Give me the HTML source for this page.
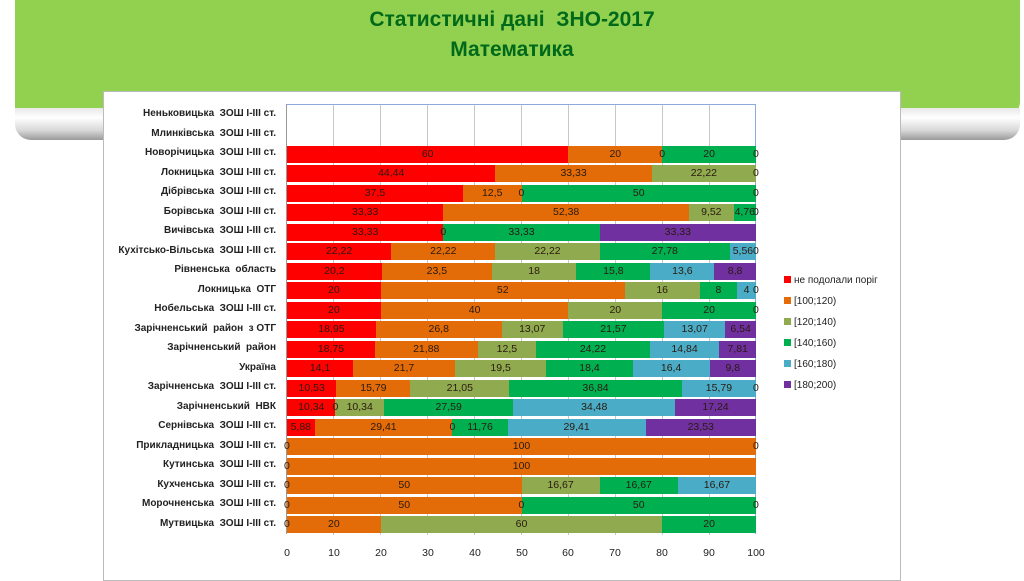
<!DOCTYPE html>
<html><head><meta charset="utf-8"><style>
*{margin:0;padding:0;box-sizing:border-box}
body{width:1024px;height:574px;background:#fff;position:relative;overflow:hidden;font-family:"Liberation Sans",sans-serif}
.banner{position:absolute;left:15px;top:0;width:1005px;height:116px;background:#92d050;border-bottom-right-radius:14px}
.shadow{position:absolute;left:15px;top:108px;width:1005px;height:32px;background:linear-gradient(#e8e8e8,#fff 30%,#d8d8d8 70%,#9a9a9a);border-radius:0 0 16px 16px;z-index:0}
.t{position:absolute;left:0;width:1024px;text-align:center;color:#006a1a;font-weight:bold;font-size:21px}
.box{position:absolute;left:103px;top:91px;width:798px;height:490px;background:#fff;border:1px solid #bbb;z-index:2}
.plot{position:absolute;left:286px;top:104px;width:470px;height:430px;border-top:1px solid #8ea9db;border-right:1px solid #8ea9db;border-left:1px solid #999;z-index:3}
.g{position:absolute;top:0;height:430px;width:1px;background:#c8c8c8}
.row{position:absolute;left:0;width:469px;height:17px;display:flex}
.row div{height:17px;font-size:10.5px;color:#2a1a10;text-align:center;line-height:17px;position:relative;white-space:nowrap;overflow:visible}
.row div.z{width:0;z-index:5}
.z span{position:absolute;left:-3px;top:0}
.r{background:#ff0000}.o{background:#e36c09}.l{background:#8faa4f}.gr{background:#00b050}.c{background:#4aacc6}.p{background:#7030a0}
.lab{position:absolute;right:748px;font-size:10px;font-weight:bold;color:#222;white-space:nowrap;z-index:3}
.ax{position:absolute;top:547px;font-size:10.5px;color:#222;width:30px;text-align:center;margin-left:-15px;z-index:3}
.leg{position:absolute;left:784px;font-size:10px;color:#222;z-index:3}
.leg i{display:inline-block;width:7px;height:7px;margin-right:3px;vertical-align:0}
</style></head><body>
<div class="banner"></div>
<div class="shadow"></div>
<div class="t" style="top:8px">Статистичні дані&nbsp; ЗНО-2017</div>
<div class="t" style="top:38px">Математика</div>
<div class="box"></div>
<div class="plot">
<div class="g" style="left:46px"></div><div class="g" style="left:93px"></div><div class="g" style="left:140px"></div><div class="g" style="left:187px"></div><div class="g" style="left:234px"></div><div class="g" style="left:281px"></div><div class="g" style="left:328px"></div><div class="g" style="left:375px"></div><div class="g" style="left:422px"></div>
<div class="row" style="top:41px"><div class="r" style="width:60%">60</div><div class="o" style="width:20%">20</div><div class="z"><span>0</span></div><div class="gr" style="width:20%">20</div><div class="z"><span>0</span></div></div>
<div class="row" style="top:60px"><div class="r" style="width:44.44%">44,44</div><div class="o" style="width:33.33%">33,33</div><div class="l" style="width:22.23%">22,22</div><div class="z"><span>0</span></div></div>
<div class="row" style="top:80px"><div class="r" style="width:37.5%">37,5</div><div class="o" style="width:12.5%">12,5</div><div class="z"><span>0</span></div><div class="gr" style="width:50%">50</div><div class="z"><span>0</span></div></div>
<div class="row" style="top:99px"><div class="r" style="width:33.33%">33,33</div><div class="o" style="width:52.38%">52,38</div><div class="l" style="width:9.52%">9,52</div><div class="gr" style="width:4.77%">4,76</div><div class="z"><span>0</span></div></div>
<div class="row" style="top:119px"><div class="r" style="width:33.33%">33,33</div><div class="z"><span>0</span></div><div class="gr" style="width:33.33%">33,33</div><div class="p" style="width:33.34%">33,33</div></div>
<div class="row" style="top:138px"><div class="r" style="width:22.22%">22,22</div><div class="o" style="width:22.22%">22,22</div><div class="l" style="width:22.22%">22,22</div><div class="gr" style="width:27.78%">27,78</div><div class="c" style="width:5.56%">5,56</div><div class="z"><span>0</span></div></div>
<div class="row" style="top:158px"><div class="r" style="width:20.2%">20,2</div><div class="o" style="width:23.5%">23,5</div><div class="l" style="width:18%">18</div><div class="gr" style="width:15.8%">15,8</div><div class="c" style="width:13.6%">13,6</div><div class="p" style="width:8.9%">8,8</div></div>
<div class="row" style="top:177px"><div class="r" style="width:20%">20</div><div class="o" style="width:52%">52</div><div class="l" style="width:16%">16</div><div class="gr" style="width:8%">8</div><div class="c" style="width:4%">4</div><div class="z"><span>0</span></div></div>
<div class="row" style="top:197px"><div class="r" style="width:20%">20</div><div class="o" style="width:40%">40</div><div class="l" style="width:20%">20</div><div class="gr" style="width:20%">20</div><div class="z"><span>0</span></div></div>
<div class="row" style="top:216px"><div class="r" style="width:18.95%">18,95</div><div class="o" style="width:26.8%">26,8</div><div class="l" style="width:13.07%">13,07</div><div class="gr" style="width:21.57%">21,57</div><div class="c" style="width:13.07%">13,07</div><div class="p" style="width:6.54%">6,54</div></div>
<div class="row" style="top:236px"><div class="r" style="width:18.75%">18,75</div><div class="o" style="width:21.88%">21,88</div><div class="l" style="width:12.5%">12,5</div><div class="gr" style="width:24.22%">24,22</div><div class="c" style="width:14.84%">14,84</div><div class="p" style="width:7.81%">7,81</div></div>
<div class="row" style="top:255px"><div class="r" style="width:14.1%">14,1</div><div class="o" style="width:21.7%">21,7</div><div class="l" style="width:19.5%">19,5</div><div class="gr" style="width:18.4%">18,4</div><div class="c" style="width:16.4%">16,4</div><div class="p" style="width:9.9%">9,8</div></div>
<div class="row" style="top:275px"><div class="r" style="width:10.53%">10,53</div><div class="o" style="width:15.79%">15,79</div><div class="l" style="width:21.05%">21,05</div><div class="gr" style="width:36.84%">36,84</div><div class="c" style="width:15.79%">15,79</div><div class="z"><span>0</span></div></div>
<div class="row" style="top:294px"><div class="r" style="width:10.34%">10,34</div><div class="z"><span>0</span></div><div class="l" style="width:10.34%">10,34</div><div class="gr" style="width:27.59%">27,59</div><div class="c" style="width:34.48%">34,48</div><div class="p" style="width:17.25%">17,24</div></div>
<div class="row" style="top:314px"><div class="r" style="width:5.88%">5,88</div><div class="o" style="width:29.41%">29,41</div><div class="z"><span>0</span></div><div class="gr" style="width:11.76%">11,76</div><div class="c" style="width:29.41%">29,41</div><div class="p" style="width:23.54%">23,53</div></div>
<div class="row" style="top:333px"><div class="z"><span>0</span></div><div class="o" style="width:100%">100</div><div class="z"><span>0</span></div></div>
<div class="row" style="top:353px"><div class="z"><span>0</span></div><div class="o" style="width:100%">100</div></div>
<div class="row" style="top:372px"><div class="z"><span>0</span></div><div class="o" style="width:50%">50</div><div class="l" style="width:16.67%">16,67</div><div class="gr" style="width:16.67%">16,67</div><div class="c" style="width:16.66%">16,67</div></div>
<div class="row" style="top:392px"><div class="z"><span>0</span></div><div class="o" style="width:50%">50</div><div class="z"><span>0</span></div><div class="gr" style="width:50%">50</div><div class="z"><span>0</span></div></div>
<div class="row" style="top:411px"><div class="z"><span>0</span></div><div class="o" style="width:20%">20</div><div class="l" style="width:60%">60</div><div class="gr" style="width:20%">20</div></div>
</div>
<div class="lab" style="top:108px">Неньковицька&nbsp; ЗОШ І-ІІІ ст.</div>
<div class="lab" style="top:128px">Млинківська&nbsp; ЗОШ І-ІІІ ст.</div>
<div class="lab" style="top:147px">Новорічицька&nbsp; ЗОШ І-ІІІ ст.</div>
<div class="lab" style="top:167px">Локницька&nbsp; ЗОШ І-ІІІ ст.</div>
<div class="lab" style="top:186px">Дібрівська&nbsp; ЗОШ І-ІІІ ст.</div>
<div class="lab" style="top:206px">Борівська&nbsp; ЗОШ І-ІІІ ст.</div>
<div class="lab" style="top:225px">Вичівська&nbsp; ЗОШ І-ІІІ ст.</div>
<div class="lab" style="top:245px">Кухітсько-Вільська&nbsp; ЗОШ І-ІІІ ст.</div>
<div class="lab" style="top:264px">Рівненська&nbsp; область</div>
<div class="lab" style="top:284px">Локницька&nbsp; ОТГ</div>
<div class="lab" style="top:303px">Нобельська&nbsp; ЗОШ І-ІІІ ст.</div>
<div class="lab" style="top:323px">Зарічненський&nbsp; район&nbsp; з ОТГ</div>
<div class="lab" style="top:342px">Зарічненський&nbsp; район</div>
<div class="lab" style="top:362px">Україна</div>
<div class="lab" style="top:381px">Зарічненська&nbsp; ЗОШ І-ІІІ ст.</div>
<div class="lab" style="top:401px">Зарічненський&nbsp; НВК</div>
<div class="lab" style="top:420px">Сернівська&nbsp; ЗОШ І-ІІІ ст.</div>
<div class="lab" style="top:440px">Прикладницька&nbsp; ЗОШ І-ІІІ ст.</div>
<div class="lab" style="top:459px">Кутинська&nbsp; ЗОШ І-ІІІ ст.</div>
<div class="lab" style="top:479px">Кухченська&nbsp; ЗОШ І-ІІІ ст.</div>
<div class="lab" style="top:498px">Морочненська&nbsp; ЗОШ І-ІІІ ст.</div>
<div class="lab" style="top:518px">Мутвицька&nbsp; ЗОШ І-ІІІ ст.</div>
<div class="ax" style="left:287px">0</div><div class="ax" style="left:334px">10</div><div class="ax" style="left:381px">20</div><div class="ax" style="left:428px">30</div><div class="ax" style="left:475px">40</div><div class="ax" style="left:522px">50</div><div class="ax" style="left:568px">60</div><div class="ax" style="left:615px">70</div><div class="ax" style="left:662px">80</div><div class="ax" style="left:709px">90</div><div class="ax" style="left:756px">100</div>
<div class="leg" style="top:275px"><i style="background:#ff0000"></i>не подолали поріг</div>
<div class="leg" style="top:296px"><i style="background:#e36c09"></i>[100;120)</div>
<div class="leg" style="top:317px"><i style="background:#8faa4f"></i>[120;140)</div>
<div class="leg" style="top:338px"><i style="background:#00b050"></i>[140;160)</div>
<div class="leg" style="top:359px"><i style="background:#4aacc6"></i>[160;180)</div>
<div class="leg" style="top:380px"><i style="background:#7030a0"></i>[180;200)</div>
</body></html>
